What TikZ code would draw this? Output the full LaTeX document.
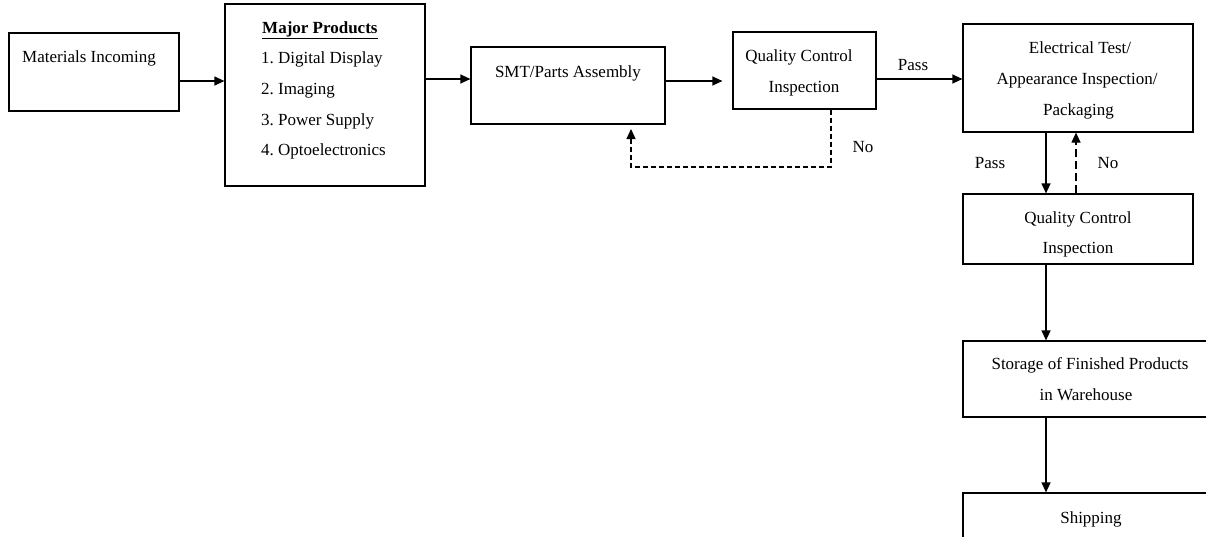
\documentclass[tikz,border=0pt]{standalone}
\usepackage{fontspec}
\setmainfont{Liberation Serif}
\usetikzlibrary{arrows.meta,calc}
\frenchspacing
\begin{document}
\begin{tikzpicture}[x=1pt,y=-1pt,
  boxst/.style={draw,line width=1.2pt,rectangle,inner sep=0pt},
  txt/.style={anchor=base,inner sep=0pt,font=\fontsize{17}{20}\selectfont},
  arr/.style={line width=1.2pt,-{Triangle[length=10pt,width=9pt]}},
  dsh/.style={dash pattern=on 5pt off 3pt}]
\useasboundingbox (0,0) rectangle (1206,536);
\clip (0,0) rectangle (1206,536);
% boxes (centres and sizes in pixel units)
\node[boxst,minimum width=170pt,minimum height=78pt] (b1) at (94,72) {};
\node[boxst,minimum width=200pt,minimum height=182pt] (b2) at (325,95) {};
\node[boxst,minimum width=194pt,minimum height=77pt] (b3) at (568,85.5) {};
\node[boxst,minimum width=143pt,minimum height=77pt] (b4) at (804.5,70.5) {};
\node[boxst,minimum width=230pt,minimum height=108pt] (b5) at (1078,78) {};
\node[boxst,minimum width=230pt,minimum height=70pt] (b6) at (1078,229) {};
\node[boxst,minimum width=258pt,minimum height=76pt] (b7) at (1092,379) {};
\node[boxst,minimum width=258pt,minimum height=74pt] (b8) at (1092,530) {};
% texts
\node[txt,anchor=base west] (t1) at (22,62) {Materials Incoming};
\node[txt,anchor=base west] (t2a) at (262,33) {\textbf{\underline{Major Products}}};
\node[txt,anchor=base west] (t2b) at (261,63) {1. Digital Display};
\node[txt,anchor=base west] (t2c) at (261,94) {2. Imaging};
\node[txt,anchor=base west] (t2d) at (261,125) {3. Power Supply};
\node[txt,anchor=base west] (t2e) at (261,155) {4. Optoelectronics};
\node[txt] (t3) at (568,77) {SMT/Parts Assembly};
\node[txt] (t4a) at (799,61) {Quality Control};
\node[txt] (t4b) at (804,92) {Inspection};
\node[txt] (t5a) at (1080,53) {Electrical Test/};
\node[txt] (t5b) at (1077,84) {Appearance Inspection/};
\node[txt] (t5c) at (1078.5,115) {Packaging};
\node[txt] (t6a) at (1078,223) {Quality Control};
\node[txt] (t6b) at (1078,253) {Inspection};
\node[txt] (t7a) at (1090,369) {Storage of Finished Products};
\node[txt] (t7b) at (1086,400) {in Warehouse};
\node[txt] (t8) at (1091,523) {Shipping};
\node[txt] (lp1) at (913,70) {Pass};
\node[txt] (ln1) at (863,152) {No};
\node[txt] (lp2) at (990,168) {Pass};
\node[txt] (ln2) at (1108,168) {No};
% helper coordinates
\coordinate (r1) at (0,81);
\coordinate (r2) at (0,79);
\coordinate (r3) at (0,81);
\coordinate (r4) at (0,79);
\coordinate (d1) at (831,167);
\coordinate (d2) at (631,167);
\coordinate (d3) at (631,129);
\coordinate (c1) at (1046,0);
\coordinate (c2) at (1076,0);
% connectors
\draw[arr] (b1.east |- r1) -- (b2.west |- r1);
\draw[arr] (b2.east |- r2) -- (b3.west |- r2);
\draw[arr] (b3.east |- r3) -- ($(b4.west |- r3)+(-10,0)$);
\draw[arr] (b4.east |- r4) -- (b5.west |- r4);
\draw[arr,dsh] (b4.south -| d1) -- (d1) -- (d2) -- (d3);
\draw[arr] (b5.south -| c1) -- (b6.north -| c1);
\draw[arr,dash pattern=on 8pt off 4pt] (b6.north -| c2) -- (b5.south -| c2);
\draw[arr] (b6.south -| c1) -- (b7.north -| c1);
\draw[arr] (b7.south -| c1) -- (b8.north -| c1);
\end{tikzpicture}
\end{document}
